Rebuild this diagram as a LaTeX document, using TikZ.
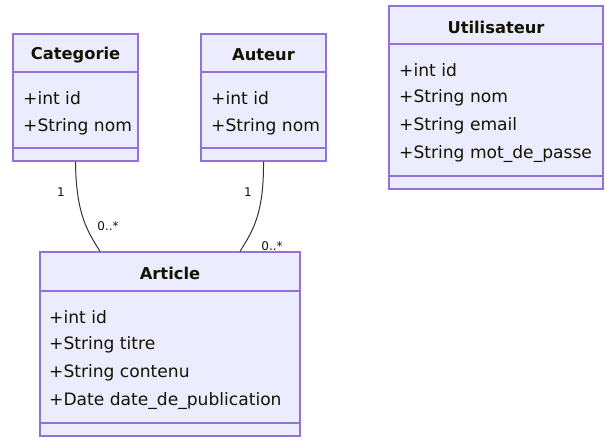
\documentclass[tikz,border=0pt]{standalone}
\usepackage{fontspec}
\setmainfont{DejaVu Sans}
\usetikzlibrary{positioning}

\definecolor{classfill}{HTML}{ECECFF}
\definecolor{classline}{HTML}{9370DB}
\definecolor{textcol}{HTML}{131300}
\definecolor{linkcol}{HTML}{333333}

\begin{document}
\begin{tikzpicture}[
    x=1pt, y=-1pt,
    classbox/.style={draw=classline, fill=classfill, line width=1.3pt, inner sep=0pt},
    sepline/.style={draw=classline, line width=1.3pt},
    title/.style={font=\bfseries\fontsize{16.3}{18}\selectfont, text=textcol, inner sep=0pt},
    attr/.style={font=\fontsize{17.1}{19}\selectfont, text=textcol, anchor=west, inner sep=0pt},
    card/.style={font=\fontsize{12}{13}\selectfont, text=textcol, inner sep=0pt},
    link/.style={draw=linkcol, line width=1pt}
]
    \useasboundingbox (0,0) rectangle (607,447);

    % Categorie
    \node[classbox, minimum width=125pt, minimum height=127pt] (cat) at (75.5,97.5) {};
    \node[title] (catT) at (75.5,55) {Categorie};
    \draw[sepline] (13,72) -- (138,72);
    \draw[sepline] (13,148) -- (138,148);
    \node[attr] (catA1) at (23,98) {+int id};
    \node[attr] (catA2) at (23,127) {+String nom};

    % Auteur
    \node[classbox, minimum width=125pt, minimum height=127pt] (aut) at (263.5,97.5) {};
    \node[title] (autT) at (263.5,55) {Auteur};
    \draw[sepline] (201,72) -- (326,72);
    \draw[sepline] (201,148) -- (326,148);
    \node[attr] (autA1) at (211,98) {+int id};
    \node[attr] (autA2) at (211,127) {+String nom};

    % Utilisateur
    \node[classbox, minimum width=214pt, minimum height=183pt] (usr) at (496,97.5) {};
    \node[title] (usrT) at (496,27) {Utilisateur};
    \draw[sepline] (389,44) -- (603,44);
    \draw[sepline] (389,176) -- (603,176);
    \node[attr] (usrA1) at (399,70) {+int id};
    \node[attr] (usrA2) at (399,98) {+String nom};
    \node[attr] (usrA3) at (399,126) {+String email};
    \node[attr] (usrA4) at (399,154) {+String mot\_de\_passe};

    % Article
    \node[classbox, minimum width=260pt, minimum height=184pt] (art) at (170,344) {};
    \node[title] (artT) at (170,273) {Article};
    \draw[sepline] (40,291) -- (300,291);
    \draw[sepline] (40,423) -- (300,423);
    \node[attr] (artA1) at (49,317) {+int id};
    \node[attr] (artA2) at (49,345) {+String titre};
    \node[attr] (artA3) at (49,373) {+String contenu};
    \node[attr] (artA4) at (49,401) {+Date date\_de\_publication};

    % associations
    \draw[link] (cat.south) .. controls (76,215) and (88,232) .. ([xshift=-70pt]art.north);
    \draw[link] (aut.south) .. controls (264,215) and (252,232) .. ([xshift=70pt]art.north);

    \node[card] (c1) at (61,192) {1};
    \node[card] (c2) at (108,226) {0..*};
    \node[card] (c3) at (248,192) {1};
    \node[card] (c4) at (272,246) {0..*};
\end{tikzpicture}
\end{document}
